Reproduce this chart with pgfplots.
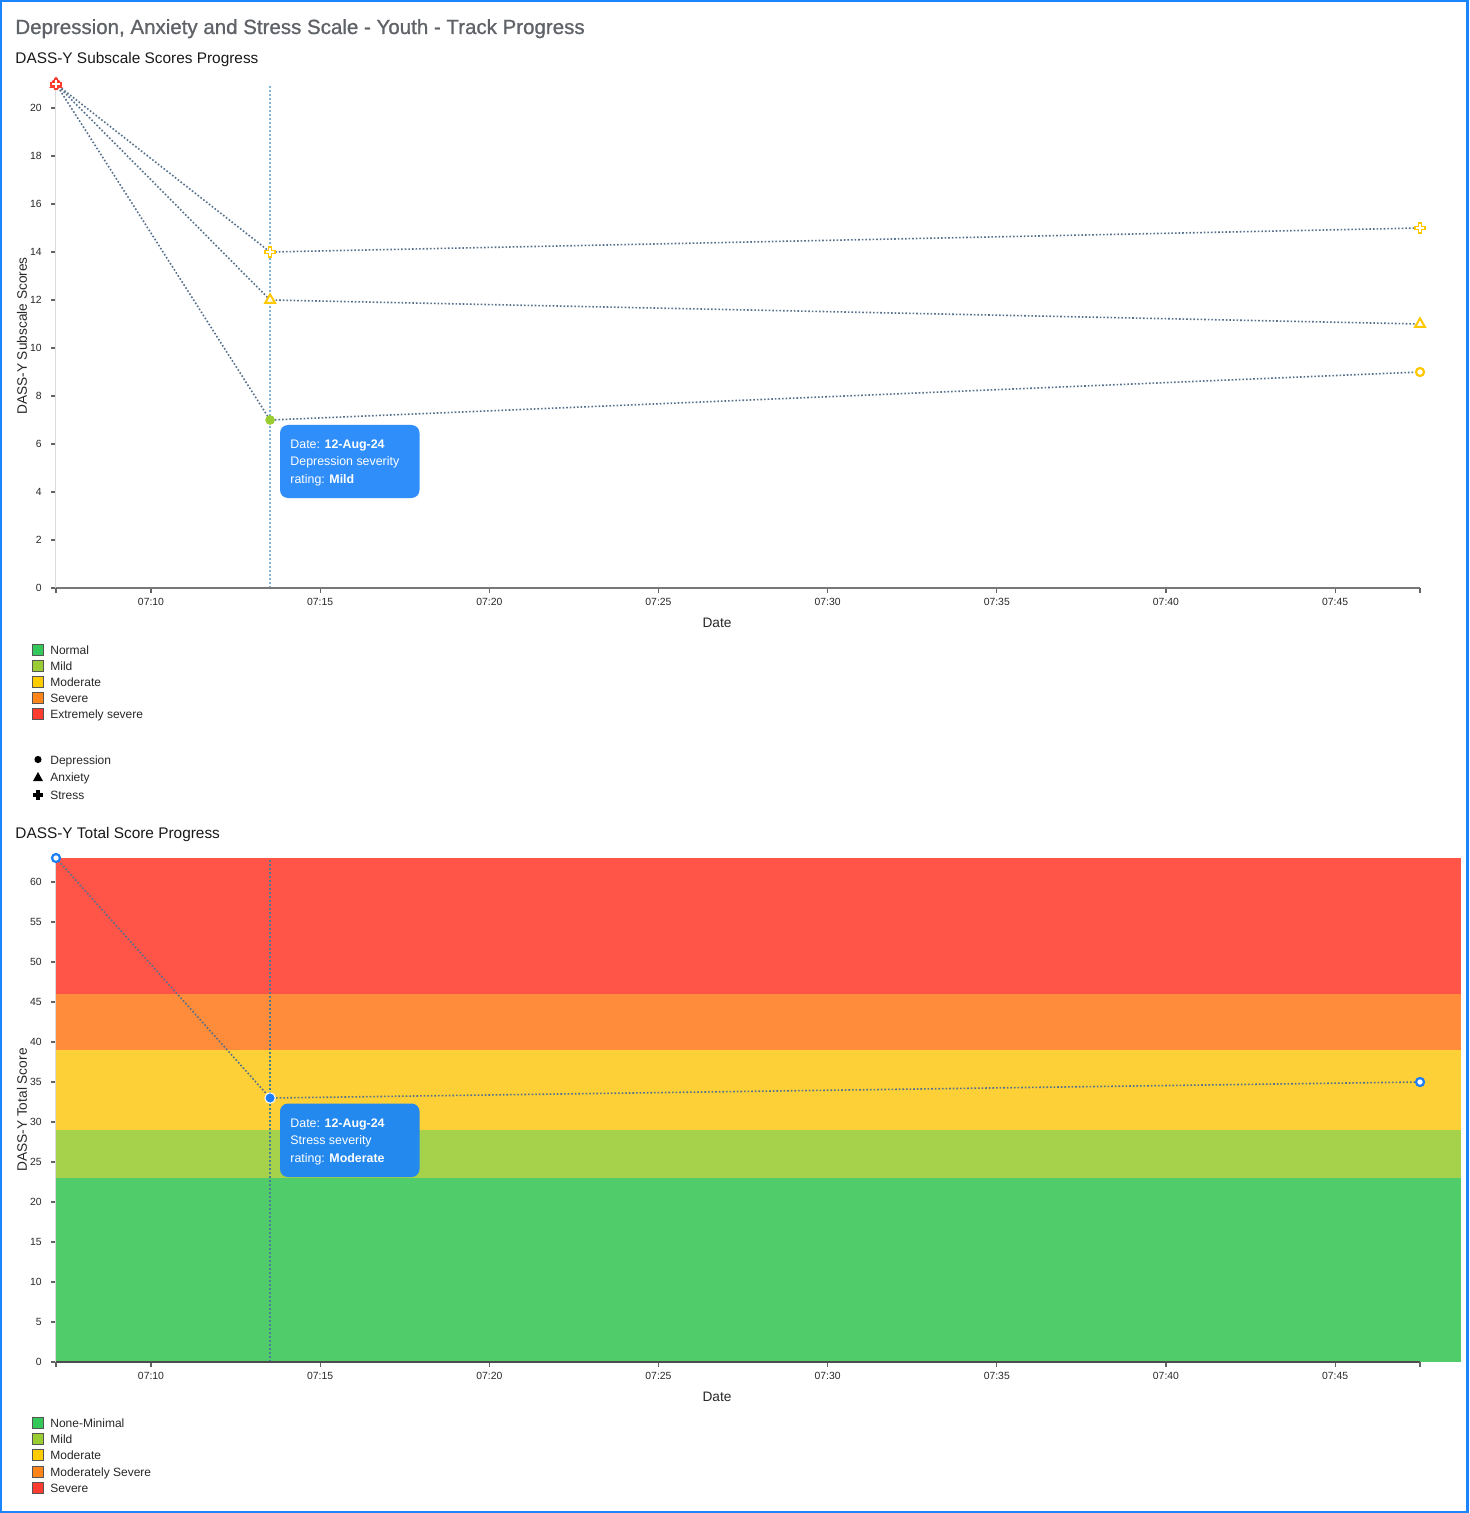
\documentclass[border=0pt]{standalone}
\usepackage{fontspec}
\setmainfont{Liberation Sans}
\newfontfamily\titlefont[FakeBold=0.9]{Liberation Sans}
\usepackage{pgfplots}
\pgfplotsset{compat=1.18}

\definecolor{lineC}{RGB}{84,112,140}
\definecolor{vlineA}{RGB}{130,178,214}
\definecolor{vlineB}{RGB}{70,128,150}
\definecolor{tipA}{RGB}{48,142,250}
\definecolor{tipB}{RGB}{36,137,238}
\definecolor{bandG}{RGB}{80,205,106}
\definecolor{bandM}{RGB}{166,209,74}
\definecolor{bandY}{RGB}{253,208,56}
\definecolor{bandO}{RGB}{255,140,58}
\definecolor{bandR}{RGB}{255,84,72}
\definecolor{legG}{RGB}{52,199,89}
\definecolor{legM}{RGB}{154,205,50}
\definecolor{legY}{RGB}{255,204,0}
\definecolor{legO}{RGB}{255,133,27}
\definecolor{legR}{RGB}{255,59,48}
\definecolor{mkY}{RGB}{255,200,0}
\definecolor{mkR}{RGB}{255,59,48}
\definecolor{mkB}{RGB}{26,125,245}
\definecolor{titleC}{RGB}{95,99,104}
\definecolor{borderC}{RGB}{26,133,255}
\definecolor{tickC}{RGB}{100,100,100}
\definecolor{axisC}{RGB}{120,120,120}
\definecolor{textC}{RGB}{40,40,40}
\definecolor{legBorder}{RGB}{85,85,85}

\pgfplotsset{
  dass/.style={
    scale only axis, width=682pt, height=252pt, anchor=south west,
    xmin=7.192, xmax=47.51,
    axis x line=bottom, axis y line=left, axis line style={-},
    y axis line style={draw=black!14, line width=0.5pt},
    xtick={10,15,20,25,30,35,40,45},
    xticklabels={07:10,07:15,07:20,07:25,07:30,07:35,07:40,07:45},
    extra x ticks={7.192,47.51}, extra x tick labels={,},
    extra x tick style={grid=none},
    extra y tick style={grid=none},
    tick align=outside, major tick length=2.5pt,
    tick style={draw=tickC, line width=0.6pt},
    tick label style={font=\fontsize{5.2}{6}\selectfont, text=textC},
    xticklabel style={yshift=1pt},
    yticklabel style={xshift=-1.1pt},
    /pgf/number format/assume math mode=true,
    clip=false, axis on top,
  },
  ln/.style={lineC, densely dotted, line width=0.8pt},
}

\begin{document}
\begin{tikzpicture}
\begin{scope}[x=0.5pt,y=-0.5pt]
\useasboundingbox (0,0) rectangle (1469,1513);
\fill[white] (0,0) rectangle (1469,1513);
\end{scope}

% ---------------- top axis ----------------
\begin{axis}[dass, at={(28pt,-294pt)},
  ymin=0, ymax=21,
  ytick={0,2,...,20}, extra y ticks={21}, extra y tick labels={,},
  x axis line style={draw=axisC, line width=1pt},
]
\draw[vlineA, line width=0.8pt, dash pattern=on 0.8pt off 1.2pt] (axis cs:13.52,0) -- (axis cs:13.52,21);
\addplot[ln] coordinates {(7.192,21) (13.52,7) (47.51,9)};
\addplot[ln] coordinates {(7.192,21) (13.52,12) (47.51,11)};
\addplot[ln] coordinates {(7.192,21) (13.52,14) (47.51,15)};
% first points (extremely severe)
\addplot[only marks, mark=*, mark size=2pt, mark options={draw=mkR, fill=white, line width=1pt}] coordinates {(7.192,21)};
\addplot[only marks, mark=triangle*, mark size=2.8pt, mark options={draw=mkR, fill=white, line width=1pt}] coordinates {(7.192,21)};
\addplot[only marks, mark=+, mark size=2.9pt, mark options={draw=mkR, line width=2.2pt}] coordinates {(7.192,21)};
\addplot[only marks, mark=+, mark size=1.8pt, mark options={draw=white, line width=0.8pt}] coordinates {(7.192,21)};
% depression
\addplot[only marks, mark=*, mark size=2.2pt, mark options={draw=legM, fill=legM}] coordinates {(13.52,7)};
\addplot[only marks, mark=*, mark size=2pt, mark options={draw=mkY, fill=white, line width=1.1pt}] coordinates {(47.51,9)};
% anxiety
\addplot[only marks, mark=triangle*, mark size=2.8pt, mark options={draw=mkY, fill=white, line width=1pt}] coordinates {(13.52,12) (47.51,11)};
% stress
\addplot[only marks, mark=+, mark size=2.9pt, mark options={draw=mkY, line width=2.2pt}] coordinates {(13.52,14) (47.51,15)};
\addplot[only marks, mark=+, mark size=1.8pt, mark options={draw=white, line width=0.8pt}] coordinates {(13.52,14) (47.51,15)};
\end{axis}

% ---------------- bottom axis ----------------
\begin{axis}[dass, at={(28pt,-681pt)},
  ymin=0, ymax=63,
  ytick={0,5,...,60}, extra y ticks={63}, extra y tick labels={,},
  x axis line style={draw=black!70, line width=1pt},
]
\fill[bandG] (axis cs:7.192,0) rectangle (axis cs:48.72,23);
\fill[bandM] (axis cs:7.192,23) rectangle (axis cs:48.72,29);
\fill[bandY] (axis cs:7.192,29) rectangle (axis cs:48.72,39);
\fill[bandO] (axis cs:7.192,39) rectangle (axis cs:48.72,46);
\fill[bandR] (axis cs:7.192,46) rectangle (axis cs:48.72,63);
\draw[vlineB, line width=0.8pt, dash pattern=on 0.8pt off 1.2pt] (axis cs:13.52,0) -- (axis cs:13.52,63);
\addplot[ln] coordinates {(7.192,63) (13.52,33) (47.51,35)};
\addplot[only marks, mark=*, mark size=2pt, mark options={draw=mkB, fill=white, line width=1.1pt}] coordinates {(7.192,63) (47.51,35)};
\addplot[only marks, mark=*, mark size=2.6pt, mark options={draw=white, fill=mkB, line width=0.5pt}] coordinates {(13.52,33)};
\end{axis}

% ---------------- text, legends, tooltips ----------------
\begin{scope}[x=0.5pt,y=-0.5pt]
\node[anchor=base west, inner sep=0, text=titleC, font=\titlefont\fontsize{10.25}{12}\selectfont] at (15,34) {Depression, Anxiety and Stress Scale - Youth - Track Progress};
\node[anchor=base west, inner sep=0, text=black!90, font=\fontsize{7.7}{9}\selectfont] at (15,63.5) {DASS-Y Subscale Scores Progress};
\node[anchor=base west, inner sep=0, text=black!90, font=\fontsize{7.7}{9}\selectfont] at (15,838.5) {DASS-Y Total Score Progress};

\node[inner sep=0, text=textC, font=\fontsize{6.85}{8}\selectfont] at (717,623) {Date};
\node[inner sep=0, text=textC, font=\fontsize{6.85}{8}\selectfont] at (717,1397) {Date};
\node[inner sep=0, rotate=90, text=textC, font=\fontsize{6.85}{8}\selectfont] at (22,336) {DASS-Y Subscale Scores};
\node[inner sep=0, rotate=90, text=textC, font=\fontsize{6.85}{8}\selectfont] at (22,1110) {DASS-Y Total Score};

% tooltips
\fill[tipA, rounded corners=4pt] (280,425) rectangle (419.5,498);
\begin{scope}[every node/.style={anchor=base west, inner sep=0, text=white, font=\fontsize{6.2}{7}\selectfont}]
\node at (290,448.5) {Date: \textbf{12-Aug-24}};
\node at (290,466) {Depression severity};
\node at (290,483.5) {rating: \textbf{Mild}};
\end{scope}
\fill[tipB, rounded corners=4pt] (280,1103.5) rectangle (419.5,1177);
\begin{scope}[every node/.style={anchor=base west, inner sep=0, text=white, font=\fontsize{6.2}{7}\selectfont}]
\node at (290,1127) {Date: \textbf{12-Aug-24}};
\node at (290,1144.5) {Stress severity};
\node at (290,1162) {rating: \textbf{Moderate}};
\end{scope}

% legends
\begin{scope}[every node/.style={anchor=base west, inner sep=0, text=textC, font=\fontsize{6}{7}\selectfont}]
\foreach \c/\t/\y in {legG/Normal/649.5, legM/Mild/665.5, legY/Moderate/681.5, legO/Severe/697.5, legR/Extremely severe/713.5}{
  \filldraw[fill=\c, draw=legBorder, line width=0.5pt] (32.5,\y-5.5) rectangle (43.5,\y+5.5);
  \node at (50,\y+4.5) {\t};
}
\foreach \c/\t/\y in {legG/None-Minimal/1422.7, legM/Mild/1439, legY/Moderate/1455.3, legO/Moderately Severe/1471.5, legR/Severe/1487.7}{
  \filldraw[fill=\c, draw=legBorder, line width=0.5pt] (32.5,\y-5.5) rectangle (43.5,\y+5.5);
  \node at (50,\y+4.5) {\t};
}
\fill[black] (38,759.5) circle (3.6);
\fill[black] (38,772) -- (43,781) -- (33,781) -- cycle;
\fill[black] (36.3,790) rectangle (39.7,800);
\fill[black] (33,793.3) rectangle (43,796.7);
\node at (50,764) {Depression};
\node at (50,781.7) {Anxiety};
\node at (50,799) {Stress};
\end{scope}

\draw[borderC, line width=1.2pt] (1.2,1.2) rectangle (1467.3,1511.8);
\end{scope}
\end{tikzpicture}
\end{document}
